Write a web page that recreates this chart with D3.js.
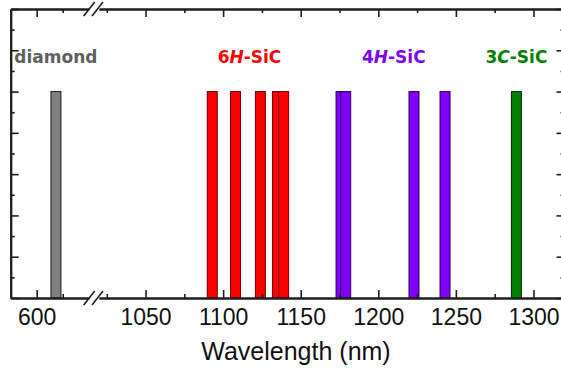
<!DOCTYPE html>
<html>
<head>
<meta charset="utf-8">
<script src="https://cdn.jsdelivr.net/npm/d3@7"></script>
<style>
  body { margin: 0; background: #fff; }
  svg { display: block; }
</style>
</head>
<body>
<div id="chart"></div>
<script>
// emission lines (nm), all drawn with the same relative height
var diamondLines = [637];
var sic6HLines = [1093, 1108, 1124, 1135, 1139];
var sic4HLines = [1176, 1179, 1223, 1243];
var sic3CLines = [1289];
var lineHeight = 5;

var groupNames = ["diamond", "6H-SiC", "4H-SiC", "3C-SiC"];
var groupLabelAt = [637, 1117, 1210, 1289];

var leftTicks = [600];
var leftMinor = [650];
var rightTicks = [1050, 1100, 1150, 1200, 1250, 1300];
var rightMinor = [1025, 1075, 1125, 1175, 1225, 1275];
var xTitle = "Wavelength (nm)";

var width = 561, height = 372;

var svg = d3.select("#chart")
  .append("svg")
  .attr("width", width)
  .attr("height", height);

// broken x axis: two linear pieces
var xLeft = d3.scaleLinear().domain([550, 700]).range([10.7, 88.7]);
var xRight = d3.scaleLinear().domain([1020, 1320]).range([99, 564.5]);
var y = d3.scaleLinear().domain([0, 7]).range([298, 9]);

function xOf(v) { return v < 900 ? xLeft(v) : xRight(v); }

var groups = [
  { name: groupNames[0], lines: diamondLines, fill: "#808080", stroke: "#1a1a1a", text: "#5f5f5f", at: groupLabelAt[0] },
  { name: groupNames[1], lines: sic6HLines, fill: "#ff0000", stroke: "#6a0000", text: "#ff0000", at: groupLabelAt[1] },
  { name: groupNames[2], lines: sic4HLines, fill: "#8000ff", stroke: "#2a0055", text: "#8000ff", at: groupLabelAt[2] },
  { name: groupNames[3], lines: sic3CLines, fill: "#008000", stroke: "#002800", text: "#008000", at: groupLabelAt[3] }
];

var barW = 10;

groups.forEach(function(g) {
  svg.append("g")
    .selectAll("rect")
    .data(g.lines)
    .enter()
    .append("rect")
    .attr("x", function(d) { return xOf(d) - barW / 2; })
    .attr("y", y(lineHeight))
    .attr("width", barW)
    .attr("height", y(0) - y(lineHeight))
    .style("fill", g.fill)
    .style("stroke", g.stroke)
    .style("stroke-width", 1);
});

// group labels, with italic polytype letter
groups.forEach(function(g) {
  var t = svg.append("text")
    .attr("x", xOf(g.at))
    .attr("y", 63)
    .attr("text-anchor", "middle")
    .style("font-family", "DejaVu Sans, Verdana, sans-serif")
    .style("font-weight", "bold")
    .style("font-size", "17px")
    .style("fill", g.text);
  var m = g.name.match(/^(\d)([A-Z])(-.*)$/);
  if (m) {
    t.append("tspan").text(m[1]);
    t.append("tspan").style("font-style", "italic").text(m[2]);
    t.append("tspan").text(m[3]);
  } else {
    t.text(g.name);
  }
});

var axisColor = "#1e1e1e";

function styleAxis(g) {
  g.selectAll("path.domain").style("stroke", axisColor).style("stroke-width", 2);
  g.selectAll(".tick line").style("stroke", axisColor).style("stroke-width", 1.6);
  g.selectAll("text")
    .style("font-family", "Liberation Sans, Arial, sans-serif")
    .style("font-size", "23px")
    .style("fill", "#111");
}

// bottom axes
[[xLeft, leftTicks, leftMinor], [xRight, rightTicks, rightMinor]].forEach(function(s) {
  svg.append("g")
    .attr("transform", "translate(0," + y(0) + ")")
    .call(d3.axisBottom(s[0]).tickValues(s[1]).tickSize(-8).tickSizeOuter(0).tickPadding(11).tickFormat(d3.format("d")))
    .call(styleAxis);
  svg.append("g")
    .attr("transform", "translate(0," + y(0) + ")")
    .call(d3.axisBottom(s[0]).tickValues(s[2]).tickSize(-4).tickSizeOuter(0).tickFormat(""))
    .call(styleAxis);
  // top mirror
  svg.append("g")
    .attr("transform", "translate(0," + y(7) + ")")
    .call(d3.axisTop(s[0]).tickValues(s[1]).tickSize(-8).tickSizeOuter(0).tickFormat(""))
    .call(styleAxis);
  svg.append("g")
    .attr("transform", "translate(0," + y(7) + ")")
    .call(d3.axisTop(s[0]).tickValues(s[2]).tickSize(-4).tickSizeOuter(0).tickFormat(""))
    .call(styleAxis);
});

// y axes, no labels
var yMajor = d3.range(0, 8, 1);
var yMinor = d3.range(0.5, 7, 1);
svg.append("g")
  .attr("transform", "translate(" + xLeft.range()[0] + ",0)")
  .call(d3.axisLeft(y).tickValues(yMajor).tickSize(-8).tickSizeOuter(0).tickFormat(""))
  .call(styleAxis);
svg.append("g")
  .attr("transform", "translate(" + xLeft.range()[0] + ",0)")
  .call(d3.axisLeft(y).tickValues(yMinor).tickSize(-4).tickSizeOuter(0).tickFormat(""))
  .call(styleAxis);
svg.append("g")
  .attr("transform", "translate(" + xRight.range()[1] + ",0)")
  .call(d3.axisRight(y).tickValues(yMajor).tickSize(-8).tickSizeOuter(0).tickFormat(""))
  .call(styleAxis);
svg.append("g")
  .attr("transform", "translate(" + xRight.range()[1] + ",0)")
  .call(d3.axisRight(y).tickValues(yMinor).tickSize(-4).tickSizeOuter(0).tickFormat(""))
  .call(styleAxis);

// break marks "//" on top and bottom axes
var bx0 = xLeft.range()[1], bx1 = xRight.range()[0];
[y(0), y(7)].forEach(function(yy) {
  [bx0 + 1, bx1 - 1].forEach(function(cx) {
    svg.append("line")
      .attr("x1", cx - 6).attr("y1", yy + 7)
      .attr("x2", cx + 5).attr("y2", yy - 7)
      .style("stroke", axisColor)
      .style("stroke-width", 1.6);
  });
});

svg.append("text")
  .attr("x", 296)
  .attr("y", 360)
  .attr("text-anchor", "middle")
  .style("font-family", "Liberation Sans, Arial, sans-serif")
  .style("font-size", "25px")
  .style("fill", "#111")
  .text(xTitle);
</script>
</body>
</html>
